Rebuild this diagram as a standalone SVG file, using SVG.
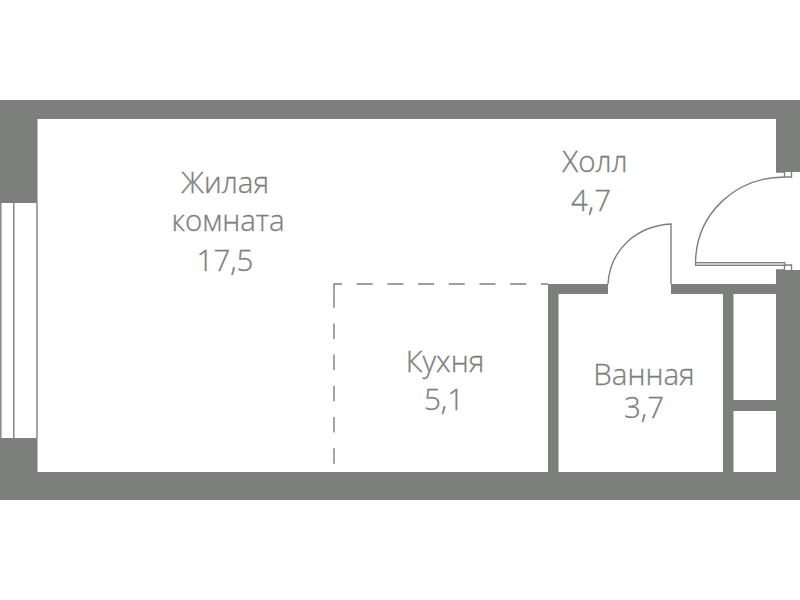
<svg xmlns="http://www.w3.org/2000/svg" width="800" height="600" viewBox="0 0 800 600">
<style>
.w{fill:#7d7f7d}
.l{fill:none;stroke:#7d7f7d;stroke-width:1.4}
.t{fill:#7d7f7d;stroke:#7d7f7d;stroke-width:.3;font-family:"Open Sans","Noto Sans",sans-serif;font-size:29.500px;font-weight:300;text-anchor:middle}
</style>
<rect width="800" height="600" fill="#fff"/>
<g id="walls">
<rect class="w" x="0" y="100" width="800" height="19"/>
<rect class="w" x="0" y="100" width="37.500" height="103"/>
<rect class="w" x="0" y="438" width="37.500" height="62"/>
<rect class="w" x="0" y="472" width="800" height="28"/>
<rect class="w" x="776" y="100" width="24" height="72"/>
<rect class="w" x="776" y="270" width="24" height="230"/>
<rect class="w" x="548" y="284" width="60" height="10"/>
<rect class="w" x="671" y="284" width="105" height="10"/>
<rect class="w" x="548" y="284" width="10.500" height="188"/>
<rect class="w" x="723" y="284" width="10.500" height="188"/>
<rect class="w" x="733" y="400" width="43" height="11"/>
</g>
<g id="window">
<path class="l" d="M0.800 203V438M13.800 203V438M37 203V438"/>
</g>
<g id="connectors">
<path class="l" d="M334 292V284H548" stroke-dasharray="16 14.700"/>
<path class="l" d="M334 292V472" stroke-dasharray="15.500 15.700" stroke-dashoffset="31"/>
<path class="l" stroke-width="2" d="M608 284C610 250 636 226 671 224V284"/>
<path class="l" d="M695.500 263C696 214 735 177 785 177"/>
<rect x="695.500" y="262.500" width="89.500" height="3" fill="#c8c9c8" stroke="#7d7f7d" stroke-width="1"/>
<path class="l" stroke-width="1" d="M784.500 172V177H791.500V172M784.500 270V265H791.500V270M784.500 172H776M784.500 270H776"/>
</g>
<g id="living"><text class="t" x="225" y="193">Жилая</text><text class="t" x="228" y="231">комната</text><text class="t" x="225" y="271">17,5</text></g>
<g id="hall"><text class="t" x="595" y="172">Холл</text><text class="t" x="591" y="211">4,7</text></g>
<g id="kitchen"><text class="t" x="445" y="372">Кухня</text><text class="t" x="444" y="410">5,1</text></g>
<g id="bath"><text class="t" x="644" y="385">Ванная</text><text class="t" x="644" y="418">3,7</text></g>
</svg>
